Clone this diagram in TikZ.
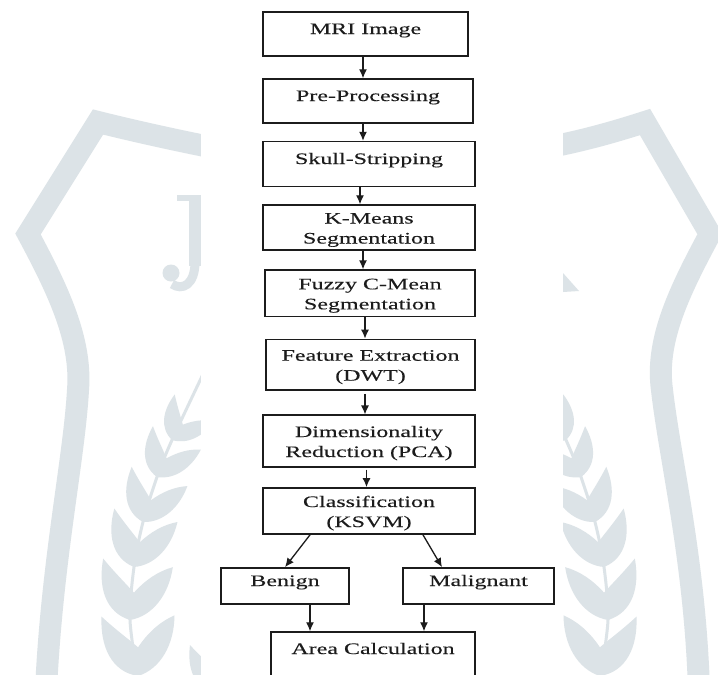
\documentclass[tikz,border=0pt]{standalone}
\usepackage{fontspec}
\setmainfont{Liberation Serif}
\newfontfamily\wideserif[FakeStretch=1.5,FakeBold=0.15]{Liberation Serif}
\usetikzlibrary{arrows.meta}
\definecolor{wm}{RGB}{220,227,231}
\definecolor{ink}{RGB}{28,28,28}
\newcommand\leafat[4]{%
  \begin{scope}[shift={(#1,#2)}, rotate=#3, scale=#4]
    \fill[wm] (0,0) .. controls (-20,-5) and (-27,-25) .. (-24,-48)
     .. controls (-15,-38) and (-6,-30) .. (2,-22)
     .. controls (10,-32) and (20,-40) .. (32,-44)
     .. controls (30,-22) and (18,-4) .. (0,0) -- cycle;
  \end{scope}}
\newcommand\stalkside{%
    \draw[wm, line width=3pt] plot[smooth] coordinates {(205,370) (172,440) (157,477) (143,522) (134,567) (130,620) (138,680)};
    \leafat{172}{440}{-30}{0.85}
    \leafat{157}{477}{-22}{0.95}
    \leafat{143}{522}{-15}{1.05}
    \leafat{134}{567}{-8}{1.15}
    \leafat{130}{620}{-3}{1.25}
    \leafat{138}{676}{5}{1.3}
    \leafat{214}{693}{0}{1.0}
}
\begin{document}
\begin{tikzpicture}[x=1pt,y=-1pt,
  fbox/.style={draw=ink, line width=1.4pt, fill=white, inner sep=2pt, text=ink,
    font=\wideserif\fontsize{16}{20}\selectfont, text height=0pt, text depth=0pt},
  twoline/.style={text height=32pt, text depth=0pt},
  arr/.style={draw=ink, line width=1.3pt, -{Latex[length=9pt,width=8pt]}}
]
\useasboundingbox (0,0) rectangle (718,675);
\clip (0,0) rectangle (718,675);
\fill[white] (0,0) rectangle (718,675);

% ---- watermark ----
\draw[wm, line width=22pt, line join=miter] (210,147) .. controls (170,139) and (130,130) .. (98,122)
   -- (28,234) .. controls (58,290) and (82,340) .. (78,390) .. controls (74,460) and (52,560) .. (46,690);
\draw[wm, line width=22pt, line join=miter] (555,146) .. controls (590,139) and (620,130) .. (645,122)
   -- (710,234) .. controls (680,290) and (655,340) .. (662,390) .. controls (670,460) and (695,560) .. (699,690);
\stalkside
\begin{scope}[xshift=738pt, xscale=-1]
  \stalkside
\end{scope}
% J
\fill[wm] (177,195) rectangle (201,201);
\fill[wm] (189,197) rectangle (201,266);
\draw[wm, line width=9pt] (195,262) .. controls (195,285) and (182,291) .. (172,284);
\fill[wm] (171,273) circle (8.5);
% R piece
\fill[wm] (563,273) -- (579,291) -- (563,292) -- cycle;

% white panel
\fill[white] (201,0) rectangle (563,675);

% ---- flowchart ----
\node[fbox, minimum width=205pt, minimum height=44pt] (mri) at (365.5,34) {MRI Image};
\node[fbox, minimum width=210pt, minimum height=44pt] (pre) at (368,101) {Pre-Processing};
\node[fbox, minimum width=212pt, minimum height=45pt] (skull) at (369,164) {Skull-Stripping};
\node[fbox, twoline, minimum width=212pt, minimum height=45pt] (kmeans) at (369,227.5)
   {\begin{tabular}[b]{@{}c@{}}K-Means\\Segmentation\end{tabular}};
\node[fbox, twoline, minimum width=210pt, minimum height=46.5pt] (fuzzy) at (370,293.3)
   {\begin{tabular}[b]{@{}c@{}}Fuzzy C-Mean\\Segmentation\end{tabular}};
\node[fbox, twoline, minimum width=209pt, minimum height=50.7pt] (feat) at (370.5,364.7)
   {\begin{tabular}[b]{@{}c@{}}Feature Extraction\\(DWT)\end{tabular}};
\node[fbox, twoline, minimum width=212pt, minimum height=51.7pt] (dim) at (369,441)
   {\begin{tabular}[b]{@{}c@{}}Dimensionality\\Reduction (PCA)\end{tabular}};
\node[fbox, twoline, minimum width=212pt, minimum height=46.3pt] (cls) at (369,511)
   {\begin{tabular}[b]{@{}c@{}}Classification\\(KSVM)\end{tabular}};
\node[fbox, minimum width=128pt, minimum height=36.3pt] (benign) at (285,586) {Benign};
\node[fbox, minimum width=151pt, minimum height=36.3pt] (malig) at (478.5,586) {Malignant};
\node[fbox, minimum width=204pt, minimum height=44pt] (area) at (373,654) {Area Calculation};

\draw[arr] ([xshift=-2.5pt]mri.south) -- ([xshift=-5pt]pre.north);
\draw[arr] ([xshift=-5pt]pre.south) -- ([xshift=-6pt]skull.north);
\draw[arr] ([xshift=-9pt]skull.south) -- ([xshift=-9pt]kmeans.north);
\draw[arr] ([xshift=-6pt]kmeans.south) -- ([xshift=-7pt]fuzzy.north);
\draw[arr] ([xshift=-5pt]fuzzy.south) -- ([xshift=-5.5pt]feat.north);
\draw[arr, shorten <=3pt] ([xshift=-5.5pt]feat.south) -- ([xshift=-4pt]dim.north);
\draw[arr, shorten <=2pt] ([xshift=-2.5pt]dim.south) -- ([xshift=-2.5pt]cls.north);
\draw[arr] ([xshift=-59pt]cls.south) -- (benign.north);
\draw[arr] ([xshift=54pt]cls.south) -- ([xshift=-36.5pt]malig.north);
\draw[arr] ([xshift=25pt]benign.south) -- ([xshift=-63pt]area.north);
\draw[arr] ([xshift=-54.5pt]malig.south) -- ([xshift=51pt]area.north);
\end{tikzpicture}
\end{document}
